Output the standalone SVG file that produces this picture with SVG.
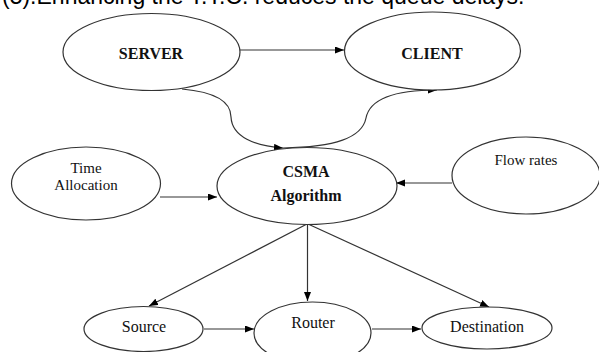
<svg xmlns="http://www.w3.org/2000/svg" width="599" height="352" viewBox="0 0 599 352">
  <style>
    .node { fill: #ffffff; stroke: #333333; stroke-width: 1.2; }
    .bold { font-family: "Liberation Serif", "DejaVu Serif", serif; font-weight: bold; font-size: 16px; fill: #111111; text-anchor: middle; }
    .label { font-family: "Liberation Serif", "DejaVu Serif", serif; font-size: 15px; fill: #111111; text-anchor: middle; }
    .big { font-size: 16px; }
    .edge { fill: none; stroke: #333333; stroke-width: 1.2; marker-end: url(#arrow); }
    .caption { font-family: "Liberation Sans", Arial, sans-serif; font-size: 23px; fill: #000000; }
  </style>
  <defs>
    <marker id="arrow" markerUnits="userSpaceOnUse" markerWidth="10" markerHeight="8" refX="9" refY="3.5" orient="auto">
      <path d="M0,0 L9,3.5 L0,7 z" fill="#000000"/>
    </marker>
  </defs>
  <rect width="599" height="352" fill="#ffffff"/>

  <!-- caption line running off the top edge -->
  <text class="caption" x="2" y="4">(5).Enhancing the T.T.C. reduces the queue delays.</text>

  <g id="connectors">
    <line class="edge" x1="240" y1="50" x2="344" y2="50"/>
    <path class="edge" d="M182 89 C215 92 231 102 231 117 C232 137 255 146 283 148"/>
    <path class="edge" d="M283 148 C335 147 362 138 366 118 C370 98 395 90 437 90"/>
    <line class="edge" x1="160" y1="197" x2="217" y2="197"/>
    <line class="edge" x1="452" y1="183" x2="396" y2="183"/>
    <line class="edge" x1="307" y1="224" x2="149" y2="306"/>
    <line class="edge" x1="307.5" y1="224" x2="307.5" y2="301"/>
    <line class="edge" x1="308" y1="224" x2="489" y2="307"/>
    <line class="edge" x1="204" y1="329" x2="254" y2="329"/>
    <line class="edge" x1="372" y1="329" x2="421" y2="329"/>
  </g>

  <g id="server">
    <ellipse class="node" cx="151.5" cy="52" rx="88.5" ry="38.5"/>
    <text class="bold" x="151" y="59">SERVER</text>
  </g>
  <g id="client">
    <ellipse class="node" cx="432.5" cy="51" rx="88" ry="39"/>
    <text class="bold" x="432" y="59">CLIENT</text>
  </g>
  <g id="csma">
    <ellipse class="node" cx="307" cy="186" rx="90" ry="38.5"/>
    <text class="bold" x="306" y="177">CSMA</text>
    <text class="bold" x="306" y="201">Algorithm</text>
  </g>
  <g id="time-allocation">
    <ellipse class="node" cx="86" cy="183.5" rx="74.5" ry="36.5"/>
    <text class="label" x="86" y="173">Time</text>
    <text class="label" x="86" y="189.5">Allocation</text>
  </g>
  <g id="flow-rates">
    <ellipse class="node" cx="526" cy="175.5" rx="74" ry="38.5"/>
    <text class="label" x="526" y="165">Flow rates</text>
  </g>
  <g id="source">
    <ellipse class="node" cx="143.5" cy="329" rx="59.5" ry="22.5"/>
    <text class="label big" x="144" y="332">Source</text>
  </g>
  <g id="router">
    <ellipse class="node" cx="312.5" cy="333" rx="58.5" ry="31"/>
    <text class="label big" x="313" y="328">Router</text>
  </g>
  <g id="destination">
    <ellipse class="node" cx="487" cy="328" rx="65" ry="21"/>
    <text class="label big" x="487" y="332">Destination</text>
  </g>
</svg>
